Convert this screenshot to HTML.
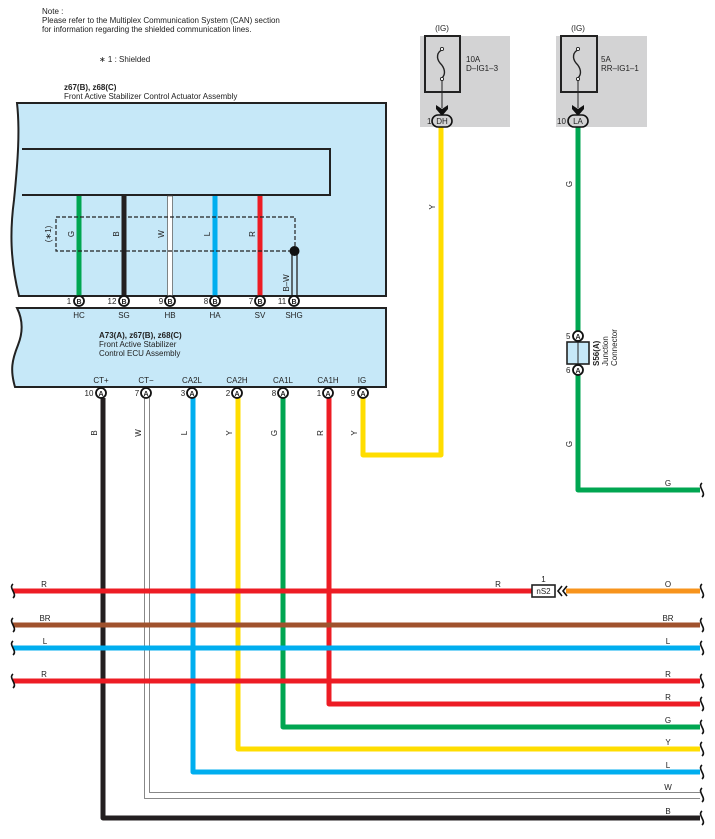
<!DOCTYPE html>
<html><head><meta charset="utf-8"><style>
html,body{margin:0;padding:0;background:#fff;}
svg{display:block;font-family:"Liberation Sans",Arial,sans-serif;}
</style></head><body>
<svg width="715" height="839" viewBox="0 0 715 839" xmlns="http://www.w3.org/2000/svg">
<defs>
<g id="sq"><path d="M0,-7 C-5,-3 5,3 0,7" fill="none" stroke="#111" stroke-width="1.6"/></g>
</defs>
<g font-size="8" fill="#222">
<text x="42" y="14">Note :</text>
<text x="42" y="23">Please refer to the Multiplex Communication System (CAN) section</text>
<text x="42" y="32">for information regarding the shielded communication lines.</text>
<text x="99" y="62">∗ 1 : Shielded</text>
<text x="64" y="90" font-weight="bold">z67(B), z68(C)</text>
<text x="64" y="99">Front Active Stabilizer Control Actuator Assembly</text>
</g>
<path d="M17,103 L386,103 L386,296 L19,296 C10,260 10,230 14,200 C18,160 20,130 17,103 Z" fill="#c6e8f8" stroke="#222" stroke-width="2"/>
<path d="M22,149 L330,149 L330,195 L22,195" fill="#c6e8f8" stroke="#222" stroke-width="2"/>
<path d="M17,308 L386,308 L386,387 L15,387 C10,370 12,360 18,345 C24,330 22,318 17,308 Z" fill="#c6e8f8" stroke="#222" stroke-width="2"/>
<line x1="79" y1="196" x2="79" y2="296" stroke="#00a651" stroke-width="5"/>
<line x1="124" y1="196" x2="124" y2="296" stroke="#231f20" stroke-width="5"/>
<rect x="167.5" y="196" width="5" height="100" fill="#fff" stroke="#555" stroke-width="0.7"/>
<line x1="215" y1="196" x2="215" y2="296" stroke="#00aeef" stroke-width="5"/>
<line x1="260" y1="196" x2="260" y2="296" stroke="#ed1c24" stroke-width="5"/>
<rect x="56" y="217" width="239" height="34" fill="none" stroke="#222" stroke-width="1.2" stroke-dasharray="4,2"/>
<line x1="292" y1="251" x2="292" y2="296" stroke="#222" stroke-width="1.3"/>
<line x1="297" y1="251" x2="297" y2="296" stroke="#222" stroke-width="1.3"/>
<circle cx="294.5" cy="251" r="5" fill="#111"/>
<g font-size="8" fill="#222">
<text transform="translate(51,234) rotate(-90)" text-anchor="middle">(∗1)</text>
<text transform="translate(74,234) rotate(-90)" text-anchor="middle">G</text>
<text transform="translate(119,234) rotate(-90)" text-anchor="middle">B</text>
<text transform="translate(164,234) rotate(-90)" text-anchor="middle">W</text>
<text transform="translate(210,234) rotate(-90)" text-anchor="middle">L</text>
<text transform="translate(255,234) rotate(-90)" text-anchor="middle">R</text>
<text transform="translate(289,283) rotate(-90)" text-anchor="middle">B–W</text>
</g>
<g font-size="8" fill="#222" text-anchor="middle">
<g stroke="#111" stroke-width="1.8" fill="#fff">
<circle cx="79" cy="301" r="5"/><circle cx="124" cy="301" r="5"/><circle cx="170" cy="301" r="5"/>
<circle cx="215" cy="301" r="5"/><circle cx="260" cy="301" r="5"/><circle cx="294" cy="301" r="5"/>
</g>
<g font-size="7" font-weight="bold">
<text x="79" y="304">B</text><text x="124" y="304">B</text><text x="170" y="304">B</text>
<text x="215" y="304">B</text><text x="260" y="304">B</text><text x="294" y="304">B</text>
</g>
<text x="69" y="304">1</text><text x="112" y="304">12</text><text x="161" y="304">9</text>
<text x="206" y="304">8</text><text x="251" y="304">7</text><text x="282" y="304">11</text>
<text x="79" y="318">HC</text><text x="124" y="318">SG</text><text x="170" y="318">HB</text>
<text x="215" y="318">HA</text><text x="260" y="318">SV</text><text x="294" y="318">SHG</text>
<text x="101" y="383">CT+</text><text x="146" y="383">CT−</text><text x="192" y="383">CA2L</text>
<text x="237" y="383">CA2H</text><text x="283" y="383">CA1L</text><text x="328" y="383">CA1H</text><text x="362" y="383">IG</text>
</g>
<g font-size="8" fill="#222">
<text x="99" y="338" font-weight="bold">A73(A), z67(B), z68(C)</text>
<text x="99" y="347">Front Active Stabilizer</text>
<text x="99" y="356">Control ECU Assembly</text>
</g>
<g fill="none" stroke-linejoin="round">
<path d="M103,398 L103,818 L700,818" stroke="#231f20" stroke-width="5"/>
<path d="M144.5,398 L144.5,798.5 L700,798.5" stroke="#888" stroke-width="1"/>
<path d="M149.5,398 L149.5,792.5 L700,792.5" stroke="#888" stroke-width="1"/>
<path d="M193,398 L193,772 L700,772" stroke="#00aeef" stroke-width="5"/>
<path d="M238,398 L238,749 L700,749" stroke="#ffdd00" stroke-width="5"/>
<path d="M283,398 L283,727 L700,727" stroke="#00a651" stroke-width="5"/>
<path d="M329,398 L329,704 L700,704" stroke="#ed1c24" stroke-width="5"/>
<path d="M363,398 L363,455 L441,455 L441,125" stroke="#ffdd00" stroke-width="5"/>
<path d="M578,125 L578,490 L700,490" stroke="#00a651" stroke-width="5"/>
<line x1="13" y1="681" x2="700" y2="681" stroke="#ed1c24" stroke-width="5"/>
<line x1="13" y1="648" x2="700" y2="648" stroke="#00aeef" stroke-width="5"/>
<line x1="13" y1="625" x2="700" y2="625" stroke="#a0522d" stroke-width="5"/>
<line x1="13" y1="591" x2="532" y2="591" stroke="#ed1c24" stroke-width="5"/>
<line x1="566" y1="591" x2="700" y2="591" stroke="#f7941d" stroke-width="5"/>
</g>
<g stroke="#111" stroke-width="1.8" fill="#fff">
<circle cx="101" cy="393" r="5"/><circle cx="146" cy="393" r="5"/><circle cx="192" cy="393" r="5"/>
<circle cx="237" cy="393" r="5"/><circle cx="283" cy="393" r="5"/><circle cx="328" cy="393" r="5"/><circle cx="363" cy="393" r="5"/>
</g>
<g font-size="7" fill="#222" text-anchor="middle" font-weight="bold">
<text x="101" y="396">A</text><text x="146" y="396">A</text><text x="192" y="396">A</text><text x="237" y="396">A</text>
<text x="283" y="396">A</text><text x="328" y="396">A</text><text x="363" y="396">A</text>
</g>
<g font-size="8" fill="#222" text-anchor="middle">
<text x="89" y="396">10</text><text x="137" y="396">7</text><text x="183" y="396">3</text><text x="228" y="396">2</text>
<text x="274" y="396">8</text><text x="319" y="396">1</text><text x="353" y="396">9</text>
<text transform="translate(97,433) rotate(-90)">B</text>
<text transform="translate(141,433) rotate(-90)">W</text>
<text transform="translate(187,433) rotate(-90)">L</text>
<text transform="translate(232,433) rotate(-90)">Y</text>
<text transform="translate(277,433) rotate(-90)">G</text>
<text transform="translate(323,433) rotate(-90)">R</text>
<text transform="translate(357,433) rotate(-90)">Y</text>
<text transform="translate(435,207) rotate(-90)">Y</text>
<text transform="translate(572,184) rotate(-90)">G</text>
<text transform="translate(572,444) rotate(-90)">G</text>
<text x="668" y="486">G</text>
<text x="44" y="587">R</text><text x="498" y="587">R</text><text x="668" y="587">O</text>
<text x="45" y="621">BR</text><text x="668" y="621">BR</text>
<text x="45" y="644">L</text><text x="668" y="644">L</text>
<text x="44" y="677">R</text><text x="668" y="677">R</text>
<text x="668" y="700">R</text><text x="668" y="723">G</text><text x="668" y="745">Y</text>
<text x="668" y="768">L</text><text x="668" y="790">W</text><text x="668" y="814">B</text>
</g>
<g>
<use href="#sq" x="13" y="591"/><use href="#sq" x="13" y="625"/><use href="#sq" x="13" y="648"/><use href="#sq" x="13" y="681"/>
<use href="#sq" x="702" y="490"/><use href="#sq" x="702" y="591"/><use href="#sq" x="702" y="625"/><use href="#sq" x="702" y="648"/>
<use href="#sq" x="702" y="681"/><use href="#sq" x="702" y="704"/><use href="#sq" x="702" y="727"/><use href="#sq" x="702" y="749"/>
<use href="#sq" x="702" y="772"/><use href="#sq" x="702" y="795"/><use href="#sq" x="702" y="818"/>
</g>
<rect x="532" y="585" width="23" height="12" fill="#fff" stroke="#222" stroke-width="1.6"/>
<text x="543.5" y="594" font-size="8" text-anchor="middle" fill="#222">nS2</text>
<text x="543.5" y="582" font-size="8" text-anchor="middle" fill="#222">1</text>
<path d="M562,586 L558,591 L562,596 M567,586 L563,591 L567,596" fill="none" stroke="#111" stroke-width="1.6"/>
<g>
<rect x="420" y="36" width="90" height="91" fill="#d3d3d4"/>
<rect x="425" y="36" width="35" height="56" fill="none" stroke="#222" stroke-width="2"/>
<path d="M442,50 C437,52 436,58 440,63 C445,68 446,74 442,78" fill="none" stroke="#222" stroke-width="1.4"/>
<circle cx="442" cy="49" r="1.6" fill="#fff" stroke="#222" stroke-width="0.9"/>
<circle cx="442" cy="79" r="1.6" fill="#fff" stroke="#222" stroke-width="0.9"/>
<line x1="442" y1="80" x2="442" y2="108" stroke="#222" stroke-width="1"/>
<path d="M436,105 L442,109 L448,105 L448,109 L442,116 L436,109 Z" fill="#111"/>
<rect x="432" y="115" width="20" height="12" rx="6" fill="#d3d3d4" stroke="#111" stroke-width="1.6"/>
<text x="442" y="124" font-size="8" text-anchor="middle" fill="#222">DH</text>
<text x="427" y="124" font-size="8" fill="#222">1</text>
<text x="442" y="31" font-size="8" text-anchor="middle" fill="#222">(IG)</text>
<text x="466" y="62" font-size="8" fill="#222">10A</text>
<text x="466" y="71" font-size="8" fill="#222">D–IG1–3</text>
</g>
<g>
<rect x="556" y="36" width="91" height="91" fill="#d3d3d4"/>
<rect x="561" y="36" width="36" height="56" fill="none" stroke="#222" stroke-width="2"/>
<path d="M578,50 C573,52 572,58 576,63 C581,68 582,74 578,78" fill="none" stroke="#222" stroke-width="1.4"/>
<circle cx="578" cy="49" r="1.6" fill="#fff" stroke="#222" stroke-width="0.9"/>
<circle cx="578" cy="79" r="1.6" fill="#fff" stroke="#222" stroke-width="0.9"/>
<line x1="578" y1="80" x2="578" y2="108" stroke="#222" stroke-width="1"/>
<path d="M572,105 L578,109 L584,105 L584,109 L578,116 L572,109 Z" fill="#111"/>
<rect x="568" y="115" width="20" height="12" rx="6" fill="#d3d3d4" stroke="#111" stroke-width="1.6"/>
<text x="578" y="124" font-size="8" text-anchor="middle" fill="#222">LA</text>
<text x="557" y="124" font-size="8" fill="#222">10</text>
<text x="578" y="31" font-size="8" text-anchor="middle" fill="#222">(IG)</text>
<text x="601" y="62" font-size="8" fill="#222">5A</text>
<text x="601" y="71" font-size="8" fill="#222">RR–IG1–1</text>
</g>
<rect x="567" y="342" width="22" height="22" fill="#c6e8f8" stroke="#222" stroke-width="1.6"/>
<line x1="578" y1="342" x2="578" y2="364" stroke="#222" stroke-width="1"/>
<circle cx="578" cy="336" r="5" fill="#fff" stroke="#111" stroke-width="1.8"/>
<circle cx="578" cy="370" r="5" fill="#fff" stroke="#111" stroke-width="1.8"/>
<text x="578" y="339" font-size="7" text-anchor="middle" fill="#222" font-weight="bold">A</text>
<text x="578" y="373" font-size="7" text-anchor="middle" fill="#222" font-weight="bold">A</text>
<text x="566" y="339" font-size="8" fill="#222">5</text>
<text x="566" y="373" font-size="8" fill="#222">6</text>
<g font-size="8" fill="#222">
<text transform="translate(599,366) rotate(-90)" font-weight="bold">S56(A)</text>
<text transform="translate(608,366) rotate(-90)">Junction</text>
<text transform="translate(617,366) rotate(-90)">Connector</text>
</g>
</svg>
</body></html>
